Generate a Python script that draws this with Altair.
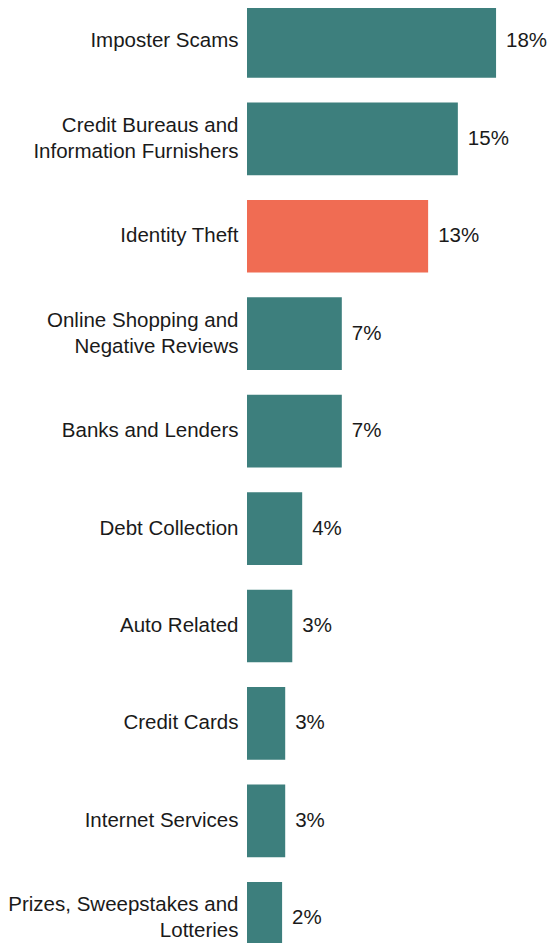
import altair as alt
import pandas as pd

categories = [
    "Imposter Scams",
    "Credit Bureaus and|Information Furnishers",
    "Identity Theft",
    "Online Shopping and|Negative Reviews",
    "Banks and Lenders",
    "Debt Collection",
    "Auto Related",
    "Credit Cards",
    "Internet Services",
    "Prizes, Sweepstakes and|Lotteries",
]
values = [17.6, 14.9, 12.8, 6.7, 6.7, 3.9, 3.2, 2.7, 2.7, 2.48]
labels = ["18%", "15%", "13%", "7%", "7%", "4%", "3%", "3%", "3%", "2%"]
highlight = ["no", "no", "yes", "no", "no", "no", "no", "no", "no", "no"]

df = pd.DataFrame({
    "category": categories,
    "value": values,
    "label": labels,
    "highlight": highlight,
})

FONT = "Liberation Sans"
TEXT_COLOR = "#1a1a1a"
FS = 20.5

base = alt.Chart(df).encode(
    y=alt.Y(
        "category:N",
        sort=categories,
        scale=alt.Scale(paddingInner=0.254, paddingOuter=0, range=[-3, 946.7]),
        axis=alt.Axis(
            title=None,
            domain=False,
            ticks=False,
            labelExpr="split(datum.label, '|')",
            labelFontSize=FS,
            labelFont=FONT,
            labelColor=TEXT_COLOR,
            labelPadding=9,
            labelLineHeight=26,
            labelLimit=300,
            labelOffset={
                "condition": {"test": "indexof(datum.value, '|') >= 0", "value": -13},
                "value": 0,
            },
        ),
    )
)

bars = base.mark_bar().encode(
    x=alt.X("value:Q", scale=alt.Scale(domain=[0, 21.2], nice=False), axis=None),
    color=alt.Color(
        "highlight:N",
        scale=alt.Scale(domain=["yes", "no"], range=["#f06c53", "#3d7f7d"]),
        legend=None,
    ),
)

text = base.mark_text(
    align="left", baseline="middle", dx=10, fontSize=FS, font=FONT, color=TEXT_COLOR
).encode(
    x=alt.X("value:Q"),
    text=alt.Text("label:N"),
)

chart = (
    (bars + text)
    .properties(
        width=300,
        height=935,
        padding={"top": 0, "left": 239, "right": 1, "bottom": 0},
        autosize=alt.AutoSizeParams(type="none"),
    )
    .configure_view(stroke=None)
)

chart.save("out.html", embed_options={"renderer": "svg", "actions": False})
